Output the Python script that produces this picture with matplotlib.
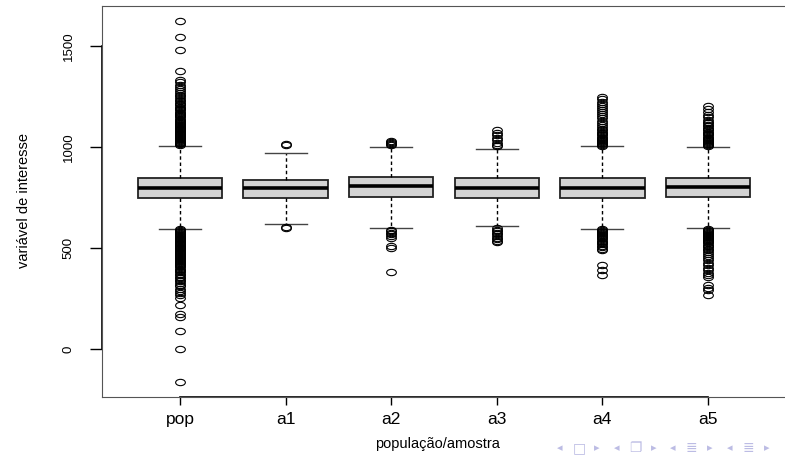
import matplotlib
matplotlib.use("Agg")
import matplotlib.pyplot as plt
from matplotlib.path import Path
from matplotlib.transforms import Affine2D
from matplotlib.markers import MarkerStyle

matplotlib.rcParams['font.family'] = ['Liberation Sans', 'DejaVu Sans']

# dados (boxplot população e 5 amostras)
grupos = ["pop", "a1", "a2", "a3", "a4", "a5"]
q1 = [749, 747, 752, 749, 746, 751]
mediana = [800, 799, 807, 799, 799, 802]
q3 = [848, 837, 853, 845, 848, 848]
bigode_inf = [597, 619, 601, 609, 597, 599]
bigode_sup = [1005, 973, 998, 988, 1003, 1002]

# outliers (estimados a partir da figura)
out_pop = [1009, 1013, 1018, 1022, 1027, 1031, 1036, 1040, 1045, 1049, 1054, 1059,
           1063, 1068, 1072, 1077, 1082, 1087, 1091, 1096, 1101, 1106, 1111, 1116,
           1121, 1126, 1131, 1136, 1141, 1147, 1152, 1158, 1163, 1169, 1175, 1181,
           1187, 1193, 1199, 1206, 1212, 1219, 1226, 1234, 1242, 1250, 1258, 1267,
           1276, 1286, 1296, 1307, 1319, 1331, 1376, 1480, 1546, 1624,
           593, 589, 584, 580, 575, 571, 566, 562, 557, 553, 548, 544, 539, 535,
           530, 526, 521, 517, 512, 508, 503, 499, 494, 490, 485, 481, 476, 472,
           467, 463, 458, 453, 448, 443, 438, 433, 428, 423, 417, 411, 405, 399,
           393, 387, 381, 374, 367, 360, 353, 345, 337, 329, 320, 311, 301, 291,
           280, 268, 256, 218, 173, 160, 89, 0, -163]
out_a1 = [1010, 1016, 598, 604]
out_a2 = [1010, 1015, 1020, 1025, 1030, 592, 585, 577, 569, 560, 552, 512, 503, 383]
out_a3 = [1003, 1012, 1022, 1033, 1045, 1058, 1070, 1085,
          600, 592, 584, 576, 568, 560, 552, 544, 536, 530]
out_a4 = [1007, 1012, 1017, 1022, 1027, 1032, 1037, 1042, 1047, 1052, 1058, 1064,
          1070, 1076, 1083, 1090, 1098, 1108, 1120, 1131, 1142, 1152, 1162, 1172,
          1182, 1193, 1203, 1214, 1225, 1235, 1245,
          594, 589, 584, 579, 574, 569, 564, 559, 554, 549, 544, 538, 532, 526,
          519, 512, 505, 497, 489, 416, 391, 368]
out_a5 = [1006, 1011, 1016, 1021, 1026, 1031, 1036, 1041, 1046, 1052, 1058, 1064,
          1070, 1076, 1082, 1089, 1096, 1103, 1110, 1117, 1125, 1135, 1147, 1160,
          1175, 1190, 1205,
          596, 591, 586, 581, 576, 571, 566, 561, 556, 551, 546, 541, 536, 530,
          524, 518, 512, 506, 498, 489, 480, 470, 460, 450, 440, 428, 416, 404,
          392, 380, 368, 356, 318, 306, 294, 270]
outliers = [out_pop, out_a1, out_a2, out_a3, out_a4, out_a5]

yticks = [0, 500, 1000, 1500]

stats = []
for i, g in enumerate(grupos):
    stats.append({"label": g, "q1": q1[i], "med": mediana[i], "q3": q3[i],
                  "whislo": bigode_inf[i], "whishi": bigode_sup[i],
                  "fliers": outliers[i]})

# circulo achatado como no pdf original
elipse = Path.unit_circle().transformed(Affine2D().scale(1.0, 0.65))

fig = plt.figure(figsize=(7.85, 4.58), dpi=100)
ax = fig.add_axes([102 / 785, 1 - 397 / 458, 684 / 785, 391 / 458])

ax.bxp(stats, positions=range(1, 7), widths=0.8, patch_artist=True,
       boxprops=dict(facecolor='#d3d3d3', edgecolor='#222222', linewidth=1.3),
       medianprops=dict(color='black', linewidth=2.6),
       whiskerprops=dict(color='black', linewidth=1.0, linestyle=(0, (2.5, 2))),
       capprops=dict(color='#444444', linewidth=1.0),
       flierprops=dict(marker=MarkerStyle(elipse), markerfacecolor='none',
                       markeredgecolor='black', markersize=7, markeredgewidth=0.8,
                       linestyle='none'))

ax.set_xlim(0.26, 6.74)
ax.set_ylim(-235, 1697)

for s in ax.spines.values():
    s.set_color('#555555')
    s.set_linewidth(0.8)
ax.spines['right'].set_visible(False)

# linhas dos eixos (como no R, só até os ticks)
ax.plot([0, 0], [yticks[0], yticks[-1]], transform=ax.get_yaxis_transform(),
        color='black', linewidth=1.2, clip_on=False)
ax.plot([1, 6], [0, 0], transform=ax.get_xaxis_transform(),
        color='black', linewidth=1.2, clip_on=False)

ax.set_xticks(range(1, 7))
ax.set_xticklabels(grupos, fontsize=12.5)
ax.set_yticks(yticks)
ax.set_yticklabels([str(v) for v in yticks], fontsize=9.5, rotation=90, va='center')
ax.tick_params(axis='x', length=5.8, width=1, pad=5)
ax.tick_params(axis='y', length=8.6, width=1, pad=11)

fig.text(24 / 785, 1 - 200 / 458, "variável de interesse", rotation=90,
         fontsize=10.5, ha='center', va='center')
fig.text(437.5 / 785, 1 - 444 / 458, "população/amostra", fontsize=10.5,
         ha='center', va='center')

# símbolos de navegação do beamer
nav = ["◂", "□", "▸", "◂", "❐", "▸", "◂", "≣", "▸", "◂", "≣", "▸"]
nav_x = [560, 579, 597, 617, 635, 654, 673, 691, 710, 730, 748, 767]
nav_tam = [8, 10, 8, 8, 10, 8, 8, 10, 8, 8, 10, 8]
for simb, xp, tam in zip(nav, nav_x, nav_tam):
    fig.text(xp / 785, 1 - 448 / 458, simb, fontsize=tam, color='#bcbce4',
             ha='center', va='center', family=['DejaVu Sans'])

plt.savefig("out.png", dpi=100)
